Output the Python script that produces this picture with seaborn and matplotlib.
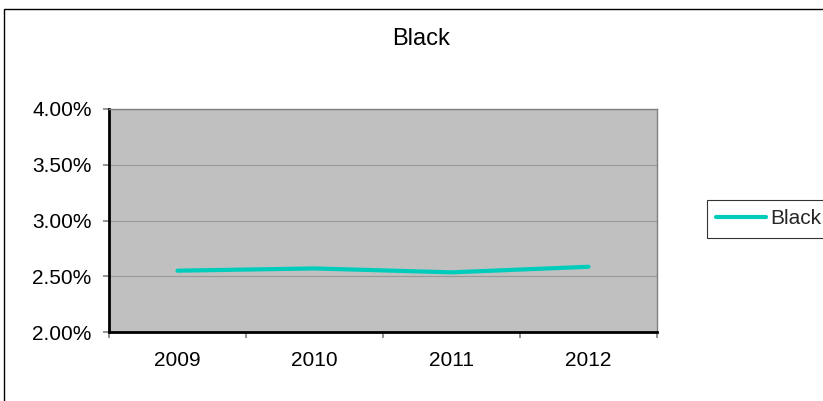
import matplotlib
matplotlib.use("Agg")
import matplotlib.pyplot as plt
import seaborn as sns
import pandas as pd
from matplotlib.patches import Rectangle
from matplotlib.ticker import FixedLocator, PercentFormatter

years = ["2009", "2010", "2011", "2012"]
black_share = [2.55, 2.57, 2.535, 2.585]  # percent
series_name = "Black"

sns.set_theme(style="white")
plt.rcParams["font.family"] = ["Liberation Sans", "DejaVu Sans"]

df = pd.DataFrame({"pos": range(len(years)), "share": black_share, "series": series_name})

fig = plt.figure(figsize=(8.23, 4.01), dpi=100)
fig.patch.set_facecolor("white")
ax = fig.add_axes([109 / 823, 1 - 332 / 401, 548 / 823, 223 / 401])

# Outer chart border
fig.add_artist(Rectangle((4 / 823, -0.05), 1.0, 1 - 9 / 401 + 0.05, transform=fig.transFigure,
                         fill=False, edgecolor="black", linewidth=1.0))

ax.set_facecolor("#C0C0C0")
sns.lineplot(data=df, x="pos", y="share", hue="series", palette=["#00CCBB"],
             linewidth=3, ax=ax, legend=False)

ax.set_xlim(-0.5, len(years) - 0.5)
ax.set_ylim(2.0, 4.0)
ax.yaxis.set_major_locator(FixedLocator([2.0, 2.5, 3.0, 3.5, 4.0]))
ax.yaxis.set_major_formatter(PercentFormatter(decimals=2))
ax.set_xticks(range(len(years)))
ax.set_xticklabels(years)
ax.set_xticks([i - 0.5 for i in range(len(years) + 1)], minor=True)
ax.tick_params(axis="x", which="major", length=0, pad=14, labelsize=15, colors="black")
ax.tick_params(axis="x", which="minor", length=4.5, width=1.2, color="#808080", direction="out", bottom=True)
ax.tick_params(axis="y", which="major", length=4.5, width=1.2, color="#808080", direction="out",
               left=True, labelsize=15, pad=8, labelcolor="black")
ax.grid(axis="y", color="#999999", linewidth=0.8)
ax.set_axisbelow(True)
ax.set_xlabel("")
ax.set_ylabel("")

for side in ("left", "bottom"):
    ax.spines[side].set_color("black")
    ax.spines[side].set_linewidth(2)
for side in ("top", "right"):
    ax.spines[side].set_color("#808080")
    ax.spines[side].set_linewidth(1)

fig.text(421 / 823, 1 - 39 / 401, "Black", ha="center", va="center", fontsize=17, color="black")

# Legend
leg_line = plt.Line2D([], [], color="#00CCBB", linewidth=3)
leg = fig.legend([leg_line], [series_name], loc="upper left",
                 bbox_to_anchor=(707 / 823, 1 - 200 / 401), frameon=True, fancybox=False,
                 fontsize=15, handlelength=2.4, handletextpad=0.2, borderpad=0.45,
                 borderaxespad=0)
leg.get_frame().set_edgecolor("black")
leg.get_frame().set_linewidth(0.8)

fig.savefig("out.png", dpi=100, facecolor="white")
